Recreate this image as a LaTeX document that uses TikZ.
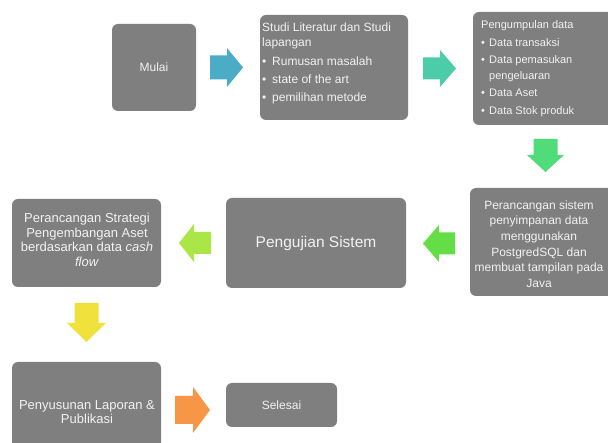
\documentclass[tikz,border=0pt]{standalone}
\usepackage{fontspec}
\setmainfont{Liberation Sans}
\definecolor{boxgray}{RGB}{127,127,127}
\definecolor{boxtext}{RGB}{242,242,242}
\definecolor{arrblue}{RGB}{75,172,198}
\definecolor{arrteal}{RGB}{76,204,168}
\definecolor{arrgreen}{RGB}{80,220,120}
\definecolor{arrlime}{RGB}{100,222,70}
\definecolor{arrlight}{RGB}{170,230,70}
\definecolor{arryellow}{RGB}{240,225,60}
\definecolor{arrorange}{RGB}{247,150,70}
% #1 centre, #2 rotation, #3 length, #4 head width, #5 body width, #6 head length, #7 colour
\newcommand{\BlockArrow}[7]{%
  \fill[#7, shift={#1}, rotate=#2]
    (-#3/2,-#5/2) -- (#3/2-#6,-#5/2) -- (#3/2-#6,-#4/2) -- (#3/2,0)
    -- (#3/2-#6,#4/2) -- (#3/2-#6,#5/2) -- (-#3/2,#5/2) -- cycle;}
\begin{document}
\begin{tikzpicture}[x=1pt,y=-1pt,
  box/.style={fill=boxgray, draw=none, rounded corners=6pt, inner sep=0pt,
              text=boxtext},
  txt/.style={text=boxtext, inner sep=0pt},
  f12/.style={font=\fontsize{12}{15}\selectfont},
]
\clip (0,0) rectangle (608,443);
\fill[white] (0,0) rectangle (608,443);

% boxes
\node[box, f12, minimum width=84, minimum height=87] (mulai) at (154,67.5) {Mulai};
\node[box, minimum width=148, minimum height=105] (studi) at (334,67.5) {};
\node[box, minimum width=147, minimum height=113] (kumpul) at (546.5,68.5) {};
\node[box, minimum width=150, minimum height=108] (rancang) at (545,242) {};
\node[box, font=\fontsize{15.5}{18}\selectfont, minimum width=180, minimum height=90] (uji) at (316,243) {Pengujian Sistem};
\node[box, minimum width=149, minimum height=88] (strategi) at (86.5,243) {};
\node[box, minimum width=149, minimum height=98] (susun) at (86.5,411) {};
\node[box, f12, minimum width=111, minimum height=44] (selesai) at (281.5,405) {Selesai};

% texts
\node[txt, anchor=west, align=left, font=\fontsize{12}{15}\selectfont] (studi-t) at (262,63.4)
  {Studi Literatur dan Studi\\lapangan\\[4pt]
   \makebox[10pt][l]{•}Rumusan masalah\\[3pt]
   \makebox[10pt][l]{•}state of the art\\[3pt]
   \makebox[10pt][l]{•}pemilihan metode};
\node[txt, anchor=west, align=left, font=\fontsize{11}{15.5}\selectfont] (kumpul-t) at (481,68.7)
  {Pengumpulan data\\[2pt]
   \makebox[8pt][l]{•}Data transaksi\\[2pt]
   \makebox[8pt][l]{•}Data pemasukan\\
   \makebox[8pt][l]{}pengeluaran\\[2pt]
   \makebox[8pt][l]{•}Data Aset\\[2pt]
   \makebox[8pt][l]{•}Data Stok produk};
\node[txt, align=center, font=\fontsize{12}{15.6}\selectfont] (rancang-t) at (539,244)
  {Perancangan sistem\\penyimpanan data\\menggunakan\\PostgredSQL dan\\membuat tampilan pada\\Java};
\node[txt, align=center, font=\fontsize{13}{14.7}\selectfont] (strategi-t) at (87,240)
  {Perancangan Strategi\\Pengembangan Aset\\berdasarkan data \textit{cash}\\\textit{flow}};
\node[txt, align=center, font=\fontsize{13}{14}\selectfont] (susun-t) at (87,412)
  {Penyusunan Laporan \&\\Publikasi};

% block arrows
\BlockArrow{(226.5,67.5)}{0}{33}{39}{24}{16}{arrblue}
\BlockArrow{(439.5,68.5)}{0}{33}{37}{22}{16}{arrteal}
\BlockArrow{(545.5,155.5)}{-90}{33}{37}{24}{17}{arrgreen}
\BlockArrow{(439,243.5)}{180}{32}{37}{22}{16}{arrlime}
\BlockArrow{(195,243)}{180}{32}{38}{22}{15}{arrlight}
\BlockArrow{(86.5,322.5)}{-90}{39}{39}{24}{19}{arryellow}
\BlockArrow{(192.5,410)}{0}{35}{46}{28}{17}{arrorange}
\end{tikzpicture}
\end{document}
